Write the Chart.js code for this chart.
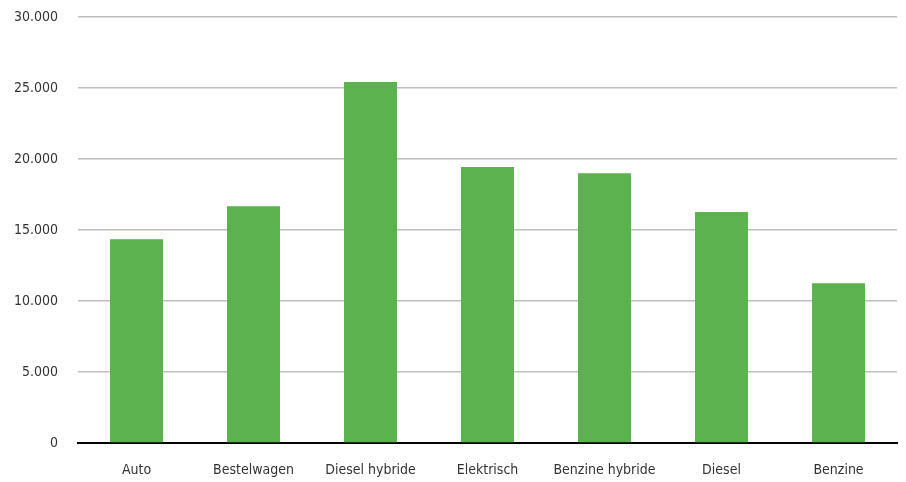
<!DOCTYPE html>
<html>
<head>
<meta charset="utf-8">
<script src="https://cdn.jsdelivr.net/npm/chart.js@4/dist/chart.umd.min.js"></script>
<style>
  html, body { margin: 0; padding: 0; background: #fff; }
  #wrap { width: 906px; height: 482px; }
</style>
</head>
<body>
<div id="wrap"><canvas id="barchart"></canvas></div>
<script>
const categories = ['Auto', 'Bestelwagen', 'Diesel hybride', 'Elektrisch', 'Benzine hybride', 'Diesel', 'Benzine']
const values = [14350, 16680, 25420, 19430, 19000, 16260, 11250]
const yTicks = [0, 5000, 10000, 15000, 20000, 25000, 30000]

const barColor = '#5cb24e'
const fontFamily = '"Liberation Sans Narrow", "DejaVu Sans Condensed", sans-serif'

function dutchNumber(v) {
  return String(v).replace(/\B(?=(\d{3})+(?!\d))/g, '.')
}

const ctx = document.getElementById('barchart').getContext('2d')
// eslint-disable-next-line no-unused-vars
const chart = new Chart(ctx, {
  type: 'bar',
  data: {
    labels: categories,
    datasets: [{
      data: values,
      backgroundColor: barColor,
      borderWidth: 0,
      barPercentage: 0.453,
      categoryPercentage: 1
    }]
  },
  options: {
    responsive: true,
    maintainAspectRatio: false,
    animation: false,
    layout: { padding: { top: 17, right: 9, left: 0, bottom: 0 } },
    plugins: {
      legend: { display: false },
      tooltip: { enabled: false }
    },
    scales: {
      x: {
        grid: { display: false, drawTicks: false },
        border: { color: '#000', width: 2 },
        ticks: {
          color: '#333',
          padding: 19,
          font: { family: fontFamily, size: 14 }
        },
        afterFit: (scale) => { scale.height = 39 }
      },
      y: {
        min: 0,
        max: 30000,
        afterBuildTicks: (scale) => { scale.ticks = yTicks.map(v => ({ value: v })) },
        grid: { color: '#bdbdbd', lineWidth: 1.5, drawTicks: false },
        border: { display: false },
        ticks: {
          color: '#333',
          padding: 20,
          font: { family: fontFamily, size: 14 },
          callback: (v) => dutchNumber(v)
        },
        afterFit: (scale) => {
          // tick padding would otherwise push the plot down
          scale.width = 78
          scale.paddingTop = 0
          scale.paddingBottom = 0
        }
      }
    }
  }
})
</script>
</body>
</html>
